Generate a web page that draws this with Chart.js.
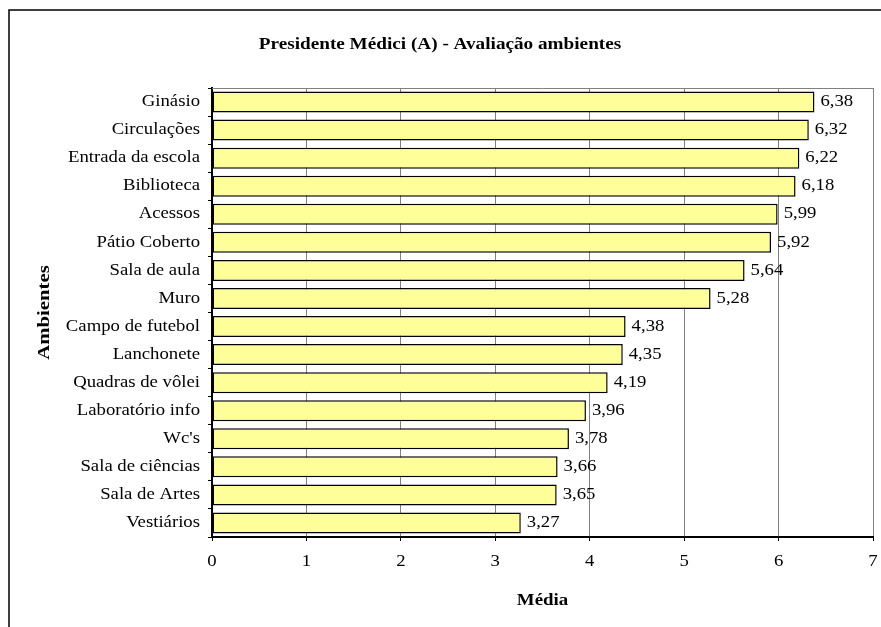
<!DOCTYPE html>
<html>
<head>
<meta charset="utf-8">
<script src="https://cdn.jsdelivr.net/npm/chart.js@4/dist/chart.umd.min.js"></script>
<style>
  html, body { margin: 0; padding: 0; background: #fff; }
  canvas { display: block; }
</style>
</head>
<body>
<canvas id="c" width="881" height="627"></canvas>
<script>
// Ambientes avaliados e suas médias
const categories = [
  "Ginásio", "Circulações", "Entrada da escola", "Biblioteca", "Acessos",
  "Pátio Coberto", "Sala de aula", "Muro", "Campo de futebol", "Lanchonete",
  "Quadras de vôlei", "Laboratório info", "Wc's", "Sala de ciências",
  "Sala de Artes", "Vestiários"
];
const medias = [6.38, 6.32, 6.22, 6.18, 5.99, 5.92, 5.64, 5.28, 4.38, 4.35, 4.19, 3.96, 3.78, 3.66, 3.65, 3.27];
const xTicks = [0, 1, 2, 3, 4, 5, 6, 7];

const chartTitle = "Presidente Médici (A) - Avaliação ambientes";
const xTitle = "Média";
const yTitle = "Ambientes";

const SERIF = "'Liberation Serif', 'Times New Roman', serif";

// Text drawn slightly widened, like the wide serif lettering of the chart
function wideText(ctx, text, x, y, font, align, sx) {
  ctx.save();
  ctx.font = font;
  ctx.fillStyle = '#000';
  ctx.textBaseline = 'middle';
  ctx.textAlign = align;
  ctx.translate(x, y);
  ctx.scale(sx, 1);
  ctx.fillText(text, 0, 0);
  ctx.restore();
}

const fmt = v => v.toFixed(2).replace('.', ',');

// Frame, titles, tick labels, plot border and value labels
const decorations = {
  id: 'decorations',
  beforeDatasetsDraw(chart) {
    const { ctx, chartArea: a } = chart;
    ctx.save();
    ctx.strokeStyle = '#808080';
    ctx.lineWidth = 1;
    ctx.beginPath();
    ctx.moveTo(a.left, a.top + 0.5);
    ctx.lineTo(a.right, a.top + 0.5);
    ctx.stroke();
    ctx.restore();
  },
  afterDatasetsDraw(chart) {
    const { ctx } = chart;
    const meta = chart.getDatasetMeta(0);
    const tickFont = "16px " + SERIF;
    meta.data.forEach((bar, i) => {
      const v = chart.data.datasets[0].data[i];
      wideText(ctx, fmt(v), bar.x + 6, bar.y, tickFont, 'left', 1.17);
    });
  },
  afterDraw(chart) {
    const { ctx, chartArea: a, scales } = chart;
    const tickFont = "16px " + SERIF;

    // category labels
    categories.forEach((c, i) => {
      wideText(ctx, c, a.left - 12, scales.y.getPixelForValue(i), tickFont, 'right', 1.17);
    });
    // value axis labels
    xTicks.forEach(v => {
      wideText(ctx, String(v), scales.x.getPixelForValue(v), a.bottom + 25, tickFont, 'center', 1.17);
    });

    ctx.save();
    // outer frame
    ctx.strokeStyle = '#000';
    ctx.lineWidth = 1.5;
    ctx.beginPath();
    ctx.moveTo(9, 640);
    ctx.lineTo(9, 10);
    ctx.lineTo(900, 10);
    ctx.stroke();
    ctx.restore();

    wideText(ctx, chartTitle, 440, 45, "bold 16px " + SERIF, 'center', 1.2);
    wideText(ctx, xTitle, (a.left + a.right) / 2, 601, "bold 16px " + SERIF, 'center', 1.18);

    ctx.save();
    ctx.translate(45, (a.top + a.bottom) / 2);
    ctx.rotate(-Math.PI / 2);
    wideText(ctx, yTitle, 0, 0, "bold 17px " + SERIF, 'center', 1.22);
    ctx.restore();
  }
};

new Chart(document.getElementById('c'), {
  type: 'bar',
  data: {
    labels: categories,
    datasets: [{
      data: medias,
      backgroundColor: '#FFFF99',
      borderColor: '#000',
      borderWidth: 1.5,
      borderSkipped: false,
      barPercentage: 0.75,
      categoryPercentage: 1
    }]
  },
  options: {
    indexAxis: 'y',
    responsive: false,
    devicePixelRatio: 1,
    animation: false,
    layout: { padding: { top: 88, right: 8, left: 0, bottom: 0 } },
    plugins: {
      legend: { display: false },
      title: { display: false },
      tooltip: { enabled: false }
    },
    scales: {
      x: {
        type: 'linear',
        min: xTicks[0],
        max: xTicks[xTicks.length - 1],
        afterFit(s) { s.height = 90; },
        afterBuildTicks(s) { s.ticks = xTicks.map(v => ({ value: v })); },
        ticks: { display: false },
        grid: {
          color: '#808080',
          lineWidth: 1,
          tickLength: 4,
          tickColor: '#000'
        },
        border: { color: '#000', width: 2 }
      },
      y: {
        type: 'category',
        afterFit(s) { s.width = 212; },
        ticks: { display: false },
        grid: {
          drawOnChartArea: false,
          offset: true,
          tickLength: 4,
          tickColor: '#000'
        },
        border: { color: '#000', width: 2 }
      }
    }
  },
  plugins: [decorations]
});
</script>
</body>
</html>
